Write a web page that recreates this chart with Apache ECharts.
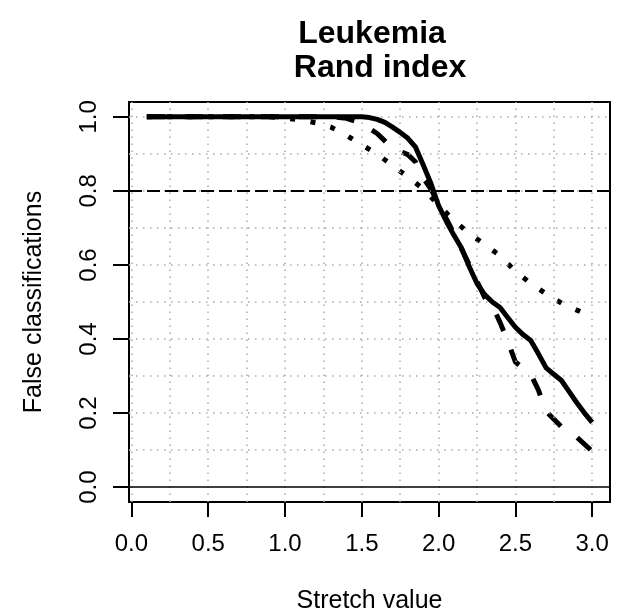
<!DOCTYPE html>
<html>
<head>
<meta charset="utf-8">
<script src="https://cdn.jsdelivr.net/npm/echarts@6/dist/echarts.min.js"></script>
<style>html,body{margin:0;padding:0;background:#fff}#c{width:623px;height:611px}</style>
</head>
<body>
<div id="c"></div>
<script>
// ---- data ----
var titleLines = ['Leukemia', 'Rand index'];
var xName = 'Stretch value';
var yName = 'False classifications';
var xTicks = [0, 0.5, 1, 1.5, 2, 2.5, 3];
var yTicks = [0, 0.2, 0.4, 0.6, 0.8, 1.0];
var xGrid = [0, 0.25, 0.5, 0.75, 1, 1.25, 1.5, 1.75, 2, 2.25, 2.5, 2.75, 3];
var yGrid = [0.1, 0.2, 0.3, 0.4, 0.5, 0.6, 0.7, 0.8, 0.9, 1.0];
var refSolid = [0];
var refDashed = [0.8];

var solidX = [0.1, 0.5, 1.0, 1.5, 1.55, 1.6, 1.65, 1.7, 1.75, 1.8, 1.85, 1.9, 1.95, 2.0, 2.05, 2.1, 2.15, 2.2, 2.25, 2.3, 2.35, 2.4, 2.45, 2.5, 2.55, 2.6, 2.65, 2.7, 2.75, 2.8, 2.85, 2.9, 2.95, 3.0];
var solidY = [1.0, 1.0, 1.0, 1.0, 0.998, 0.993, 0.985, 0.972, 0.958, 0.942, 0.918, 0.87, 0.82, 0.76, 0.718, 0.68, 0.645, 0.595, 0.55, 0.52, 0.5, 0.485, 0.458, 0.432, 0.412, 0.396, 0.36, 0.322, 0.305, 0.288, 0.258, 0.228, 0.2, 0.175];

var dashedX = [0.1, 0.5, 1.0, 1.3, 1.4, 1.5, 1.6, 1.7, 1.8, 1.85, 1.9, 1.95, 2.0, 2.1, 2.2, 2.3, 2.35, 2.4, 2.45, 2.5, 2.6, 2.65, 2.7, 2.8, 2.9, 3.0];
var dashedY = [1.0, 1.0, 1.0, 1.0, 0.996, 0.982, 0.955, 0.915, 0.898, 0.878, 0.835, 0.805, 0.765, 0.685, 0.6, 0.512, 0.49, 0.445, 0.395, 0.338, 0.305, 0.262, 0.205, 0.163, 0.135, 0.097];

var dottedX = [0.1, 0.5, 0.9, 1.0, 1.1, 1.2, 1.3, 1.4, 1.5, 1.6, 1.7, 1.8, 1.9, 2.0, 2.1, 2.2, 2.3, 2.4, 2.5, 2.6, 2.7, 2.8, 2.9, 3.0];
var dottedY = [1.0, 1.0, 1.0, 0.996, 0.992, 0.984, 0.972, 0.95, 0.924, 0.9, 0.868, 0.838, 0.805, 0.762, 0.72, 0.685, 0.655, 0.625, 0.583, 0.55, 0.522, 0.497, 0.478, 0.46];

function pairs(xs, ys) { return xs.map(function (x, i) { return [x, ys[i]]; }); }

var FONT = '"Liberation Sans", Arial, Helvetica, sans-serif';
var chart = echarts.init(document.getElementById('c'), null, { renderer: 'canvas' });
chart.setOption({
  animation: false,
  backgroundColor: '#fff',
  title: [
    { text: titleLines[0], left: 367, top: 13, textAlign: 'center',
      textStyle: { fontFamily: FONT, fontSize: 32, fontWeight: 'bold', color: '#000' } },
    { text: titleLines[1], left: 375, top: 47, textAlign: 'center',
      textStyle: { fontFamily: FONT, fontSize: 32, fontWeight: 'bold', color: '#000' } }
  ],
  grid: { left: 129, right: 13, top: 102, bottom: 109, containLabel: false, outerBoundsMode: 'none',
    show: true, borderColor: '#000', borderWidth: 2, backgroundColor: 'transparent' },
  xAxis: {
    type: 'value', min: -0.016, max: 3.116,
    name: xName, nameLocation: 'middle', nameGap: 87,
    nameTextStyle: { fontFamily: FONT, fontSize: 25, color: '#000' },
    axisLine: { show: false, onZero: false },
    axisTick: { show: true, length: 15, customValues: xTicks, lineStyle: { color: '#000', width: 2 } },
    axisLabel: { show: true, customValues: xTicks, margin: 30, fontFamily: FONT, fontSize: 24, color: '#000',
      formatter: function (v) { return v.toFixed(1); } },
    splitLine: { show: false }
  },
  yAxis: {
    type: 'value', min: -0.04, max: 1.04,
    name: yName, nameLocation: 'middle', nameGap: 82, nameRotate: 90,
    nameTextStyle: { fontFamily: FONT, fontSize: 25, color: '#000' },
    axisLine: { show: false, onZero: false },
    axisTick: { show: true, length: 16, customValues: yTicks, lineStyle: { color: '#000', width: 2 } },
    axisLabel: { show: true, customValues: yTicks, rotate: 90, margin: 28, fontFamily: FONT, fontSize: 24, color: '#000',
      formatter: function (v) { return v.toFixed(1); } },
    splitLine: { show: false }
  },
  series: [
    {
      name: 'grid', type: 'line', data: [], z: 1, silent: true,
      markLine: {
        silent: true, symbol: ['none', 'none'], label: { show: false }, animation: false,
        lineStyle: { color: '#aaa', type: [1.5, 5.5], width: 1.5 },
        data: xGrid.map(function (v) { return { xAxis: v }; }).concat(yGrid.map(function (v) { return { yAxis: v }; }))
      }
    },
    {
      name: 'ref', type: 'line', data: [], z: 2, silent: true,
      markLine: {
        silent: true, symbol: ['none', 'none'], label: { show: false }, animation: false,
        data: refSolid.map(function (v) { return { yAxis: v, lineStyle: { color: '#000', type: 'solid', width: 1.5 } }; })
          .concat(refDashed.map(function (v) { return { yAxis: v, lineStyle: { color: '#000', type: [13, 5], width: 2 } }; }))
      }
    },
    {
      name: 'dotted', type: 'line', data: pairs(dottedX, dottedY), showSymbol: false, symbol: 'none', z: 3,
      lineStyle: { color: '#000', width: 5, type: [5, 15.5], cap: 'butt' }
    },
    {
      name: 'dashed', type: 'line', data: pairs(dashedX, dashedY), showSymbol: false, symbol: 'none', z: 4,
      lineStyle: { color: '#000', width: 5, type: [18, 20], cap: 'butt' }
    },
    {
      name: 'solid', type: 'line', data: pairs(solidX, solidY), showSymbol: false, symbol: 'none', z: 5,
      lineStyle: { color: '#000', width: 5, type: 'solid', join: 'round' }
    }
  ]
});
</script>
</body>
</html>
